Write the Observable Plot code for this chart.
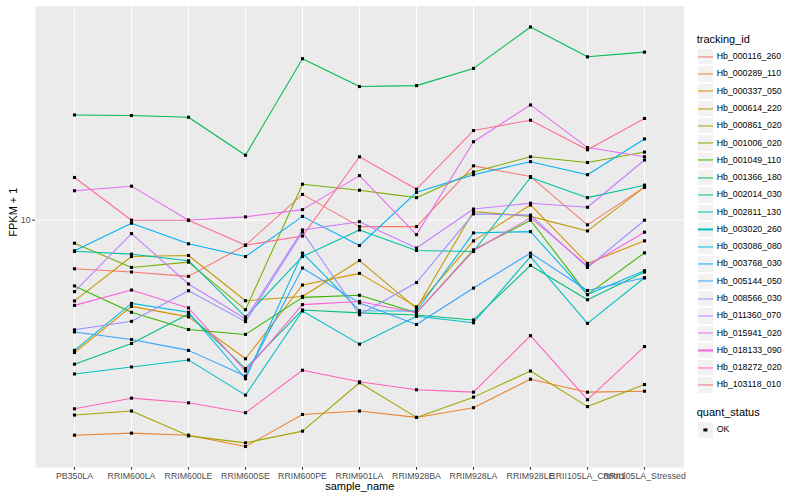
<!DOCTYPE html>
<html><head><meta charset="utf-8">
<script src="https://cdn.jsdelivr.net/npm/d3@7"></script>
<script src="https://cdn.jsdelivr.net/npm/@observablehq/plot@0.6"></script>
<style>
html,body{margin:0;padding:0;background:#fff;}
#wrap{position:relative;width:800px;height:500px;font-family:"Liberation Sans",Arial,Helvetica,sans-serif;background:#fff;}
#chart{position:absolute;left:0;top:0;}
#legend{position:absolute;left:690px;top:0;width:110px;height:500px;}
.lt{position:absolute;font-size:11px;color:#000;line-height:1;white-space:nowrap;}
.key{position:absolute;width:17.28px;height:17.28px;background:#F2F2F2;box-sizing:border-box;border:0.6px solid #fff;}
.kl{position:absolute;left:0;right:0;top:50%;height:1.1px;transform:translateY(-50%);}
.lab{position:absolute;font-size:8.8px;line-height:1;color:#000;white-space:nowrap;}
</style></head><body>
<div id="wrap"><div id="chart"></div><div id="legend"></div></div>
<script>
const samples = ["PB350LA","RRIM600LA","RRIM600LE","RRIM600SE","RRIM600PE","RRIM901LA","RRIM928BA","RRIM928LA","RRIM928LE","RRII105LA_Control","RRII105LA_Stressed"];
const ids = ["Hb_000116_260","Hb_000289_110","Hb_000337_050","Hb_000614_220","Hb_000861_020","Hb_001006_020","Hb_001049_110","Hb_001366_180","Hb_002014_030","Hb_002811_130","Hb_003020_260","Hb_003086_080","Hb_003768_030","Hb_005144_050","Hb_008566_030","Hb_011360_070","Hb_015941_020","Hb_018133_090","Hb_018272_020","Hb_103118_010"];
const colors = ["#F8766D","#EA8331","#D89000","#C09B00","#A3A500","#7CAE00","#39B600","#00BB4E","#00BF7D","#00C1A3","#00BFC4","#00BAE0","#00B0F6","#35A2FF","#9590FF","#C77CFF","#E76BF3","#FA62DB","#FF62BC","#FF6C91"];

// FPKM + 1 per sample, in sample order
const hb_000116_260 = [6.88, 6.71, 6.49, 8.25, 12.2, 9.52, 9.52, 15.2, 14.0, 9.65, 12.9];
const hb_000289_110 = [1.91, 1.94, 1.91, 1.75, 2.24, 2.30, 2.19, 2.36, 2.94, 2.66, 2.68];
const hb_000337_050 = [3.61, 5.15, 4.75, 3.44, 6.07, 6.64, 5.13, 8.53, 11.25, 7.17, 8.53];
const hb_000614_220 = [5.37, 7.56, 7.62, 5.38, 5.56, 7.33, 5.07, 10.7, 10.3, 9.21, 12.9];
const hb_000861_020 = [2.23, 2.30, 1.90, 1.80, 1.97, 2.86, 2.19, 2.56, 3.13, 2.38, 2.82];
const hb_001006_020 = [8.38, 6.95, 7.24, 5.02, 13.2, 12.6, 11.9, 14.5, 16.3, 15.6, 16.9];
const hb_001049_110 = [6.03, 4.92, 4.31, 4.15, 5.52, 5.61, 4.90, 7.96, 10.0, 5.64, 7.78];
const hb_001366_180 = [22.5, 22.4, 22.1, 16.5, 34.7, 28.0, 28.2, 32.2, 44.3, 35.2, 36.5];
const hb_002014_030 = [3.30, 3.87, 4.86, 3.19, 5.01, 4.90, 4.82, 4.64, 7.06, 5.42, 6.71];
const hb_002811_130 = [7.87, 7.70, 7.32, 4.75, 7.56, 9.28, 7.92, 7.86, 13.9, 11.9, 13.1];
const hb_003020_260 = [3.06, 3.23, 3.41, 2.60, 4.97, 3.85, 4.77, 4.54, 7.56, 4.52, 6.42];
const hb_003086_080 = [3.67, 5.27, 4.92, 2.95, 7.76, 4.98, 4.97, 9.07, 9.16, 5.64, 6.78];
const hb_003768_030 = [7.90, 9.77, 8.34, 7.56, 10.3, 8.23, 12.4, 14.2, 15.7, 14.2, 18.7];
const hb_005144_050 = [4.23, 3.99, 3.67, 3.01, 6.92, 5.29, 4.48, 5.93, 7.76, 5.82, 6.42];
const hb_008566_030 = [4.30, 4.59, 5.81, 4.58, 9.14, 4.83, 6.19, 10.5, 10.4, 6.95, 10.0];
const hb_011360_070 = [5.77, 9.02, 6.12, 4.68, 9.28, 9.89, 8.07, 10.9, 11.4, 11.05, 15.9];
const hb_015941_020 = [12.55, 13.0, 10.0, 10.26, 10.85, 14.1, 8.95, 18.3, 24.3, 17.5, 16.3];
const hb_018133_090 = [5.19, 5.84, 5.09, 3.13, 5.22, 5.35, 4.90, 7.90, 10.2, 7.04, 9.12];
const hb_018272_020 = [2.34, 2.54, 2.45, 2.27, 3.15, 2.88, 2.71, 2.66, 4.11, 2.51, 3.78];
const hb_103118_010 = [13.9, 10.0, 10.0, 8.25, 8.85, 16.3, 12.7, 19.95, 21.6, 17.2, 21.9];
const yTicks = [10];

const series = [hb_000116_260, hb_000289_110, hb_000337_050, hb_000614_220, hb_000861_020,
  hb_001006_020, hb_001049_110, hb_001366_180, hb_002014_030, hb_002811_130,
  hb_003020_260, hb_003086_080, hb_003768_030, hb_005144_050, hb_008566_030,
  hb_011360_070, hb_015941_020, hb_018133_090, hb_018272_020, hb_103118_010];

const data = [];
ids.forEach((id, i) => series[i].forEach((v, j) => data.push({id, sample: samples[j], value: v, status: "OK"})));

const lmin = Math.log10(d3.min(data, d => d.value));
const lmax = Math.log10(d3.max(data, d => d.value));
const pad = (lmax - lmin) * 0.05;
const yDomain = [Math.pow(10, lmin - pad), Math.pow(10, lmax + pad)];

const font = '"Liberation Sans", Arial, Helvetica, sans-serif';

const chart = Plot.plot({
  width: 690, height: 500,
  marginLeft: 35, marginRight: 6.5, marginTop: 5.5, marginBottom: 33,
  style: {background: "white", fontFamily: font, fontSize: "8.8px", overflow: "visible"},
  x: {type: "point", domain: samples, padding: 0.6},
  y: {type: "log", domain: yDomain},
  color: {domain: ids, range: colors},
  marks: [
    Plot.frame({fill: "#EBEBEB", stroke: null}),
    Plot.gridX({stroke: "white", strokeOpacity: 1, strokeWidth: 1.07}),
    Plot.gridY({ticks: yTicks, stroke: "white", strokeOpacity: 1, strokeWidth: 1.07}),
    Plot.line(data, {x: "sample", y: "value", z: "id", stroke: "id", strokeWidth: 1.07}),
    Plot.dot(data, {x: "sample", y: "value", symbol: "square", fill: "black", r: 1.75}),
    Plot.axisX({label: null, tickSize: 2.75, tickPadding: 2.4, stroke: "#333333", fill: "#4D4D4D", fontSize: 8.8, strokeWidth: 1.07}),
    Plot.axisY({ticks: yTicks, tickFormat: d => String(d), label: null, tickSize: 2.75, tickPadding: 2.2, stroke: "#333333", fill: "#4D4D4D", fontSize: 8.8, strokeWidth: 1.07}),
    Plot.text(["sample_name"], {text: d => d, frameAnchor: "bottom", dy: 22, fontSize: 11, fill: "black"}),
    Plot.text(["FPKM + 1"], {text: d => d, frameAnchor: "left", dx: -22, rotate: -90, fontSize: 11, fill: "black"})
  ]
});
document.getElementById("chart").appendChild(chart);

// legend
const leg = document.getElementById("legend");
function add(cls, css, html) {
  const d = document.createElement("div");
  d.className = cls;
  Object.assign(d.style, css);
  if (html != null) d.innerHTML = html;
  leg.appendChild(d);
  return d;
}
add("lt", {left: "6.7px", top: "34.2px"}, "tracking_id");
ids.forEach((id, i) => {
  const c = 56.7 + 17.28 * i;
  const k = add("key", {left: "6.7px", top: (c - 8.64) + "px"});
  const l = document.createElement("div");
  l.className = "kl";
  l.style.background = colors[i];
  k.appendChild(l);
  add("lab", {left: "26.7px", top: (c - 4.6) + "px"}, id);
});
add("lt", {left: "6.7px", top: "406.5px"}, "quant_status");
const kc = 430;
const ok = add("key", {left: "6.7px", top: (kc - 8.64) + "px"});
const sq = document.createElement("div");
Object.assign(sq.style, {position: "absolute", left: "50%", top: "50%", width: "3.2px", height: "3.2px", background: "#000", transform: "translate(-50%,-50%)"});
ok.appendChild(sq);
add("lab", {left: "26.7px", top: (kc - 4.6) + "px"}, "OK");
</script></body></html>
